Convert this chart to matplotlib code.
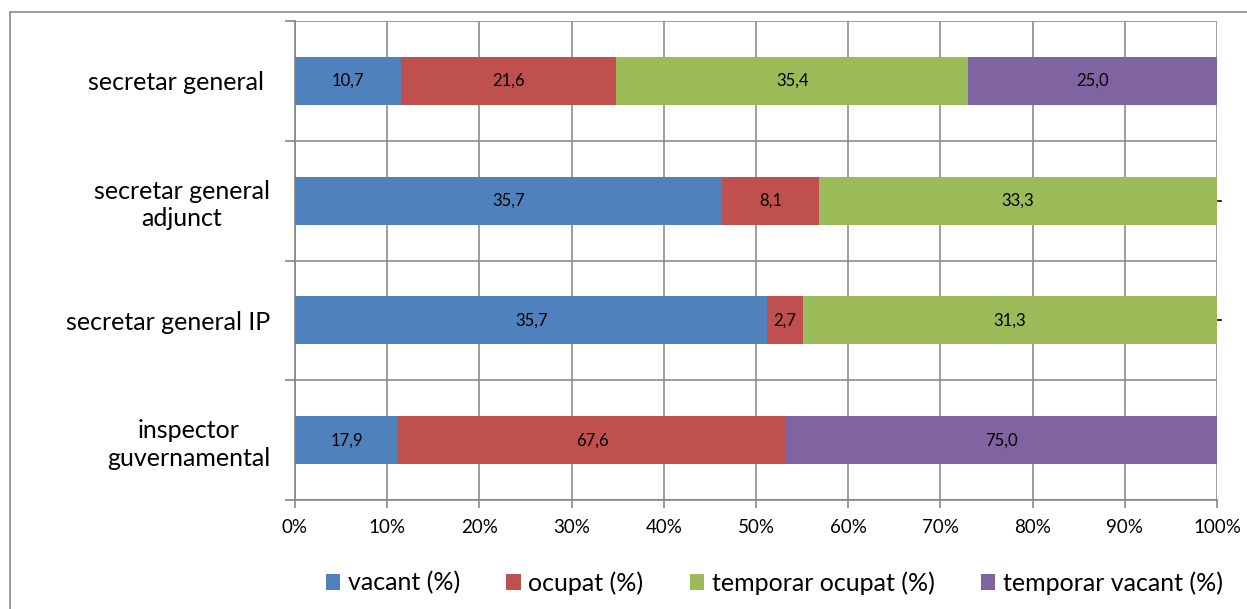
import matplotlib
matplotlib.use("Agg")
import matplotlib.pyplot as plt
from matplotlib.patches import Rectangle
import numpy as np

categories = ["secretar general ", "secretar general\nadjunct", "secretar general IP", "inspector\nguvernamental"]
series_names = ["vacant (%)", "ocupat (%)", "temporar ocupat (%)", "temporar vacant (%)"]
vacant = [10.7, 35.7, 35.7, 17.9]
ocupat = [21.6, 8.1, 2.7, 67.6]
temporar_ocupat = [35.4, 33.3, 31.3, 0.0]
temporar_vacant = [25.0, 0.0, 0.0, 75.0]
colors = ["#4F81BD", "#C0504D", "#9BBB59", "#8064A2"]
xtick_labels = ["0%", "10%", "20%", "30%", "40%", "50%", "60%", "70%", "80%", "90%", "100%"]

plt.rcParams["font.family"] = ["Lato", "DejaVu Sans"]

values = np.array([vacant, ocupat, temporar_ocupat, temporar_vacant])
shares = values / values.sum(axis=0) * 100.0

fig = plt.figure(figsize=(12.47, 6.09), dpi=100)
fig.patches.append(Rectangle((10 / 1247, -0.01), 1.02, 1 - 12 / 609 + 0.01, transform=fig.transFigure,
                             fill=False, edgecolor="#8a8a8a", linewidth=1.2))
ax = fig.add_axes([295 / 1247, 109 / 609, 922 / 1247, 479 / 609])

ypos = np.arange(len(categories))
left = np.zeros(len(categories))
last = len(series_names) - 1
for i, name in enumerate(series_names):
    ax.barh(ypos, shares[i], left=left, height=0.4, color=colors[i], label=name,
            edgecolor="none", zorder=3)
    for j in range(len(categories)):
        if values[i, j] > 0:
            ax.text(left[j] + shares[i, j] / 2, ypos[j], f"{values[i, j]:.1f}".replace(".", ","),
                    ha="center", va="center", fontsize=12, color="black", zorder=4)
        elif i == last:
            # empty end segment: small marker just past the bar end
            ax.plot([left[j] + 0.1, left[j] + 0.45], [ypos[j], ypos[j]], color="black",
                    linewidth=1.2, zorder=4, clip_on=False)
    left = left + shares[i]

ax.set_xlim(0, 100)
ax.set_ylim(len(categories) - 0.5, -0.5)
ax.set_xticks(np.arange(0, 101, 10))
ax.set_xticklabels(xtick_labels, fontsize=13.5)
ax.set_yticks(np.arange(-0.5, len(categories), 1.0))
ax.set_yticklabels([])
ax.set_yticks(ypos, minor=True)
ax.set_yticklabels(categories, minor=True, fontsize=18, multialignment="center", linespacing=1.25)
ax.tick_params(axis="y", which="minor", length=0, pad=18)
ax.tick_params(axis="y", which="major", length=7, color="#868686", width=1.2)
ax.tick_params(axis="x", length=6, color="#868686", width=1.2, pad=8)
ax.grid(True, which="major", color="#8c8c8c", linewidth=1.2, zorder=0)
for s in ["top", "right"]:
    ax.spines[s].set_visible(False)
for s in ["left", "bottom"]:
    ax.spines[s].set_color("#868686")
    ax.spines[s].set_linewidth(1.2)

fig.legend(loc="center", bbox_to_anchor=(0.621, 26 / 609), ncol=4, frameon=False,
           fontsize=18, handlelength=0.58, handleheight=0.58, handletextpad=0.3, columnspacing=1.85)

fig.savefig("out.png", dpi=100)
